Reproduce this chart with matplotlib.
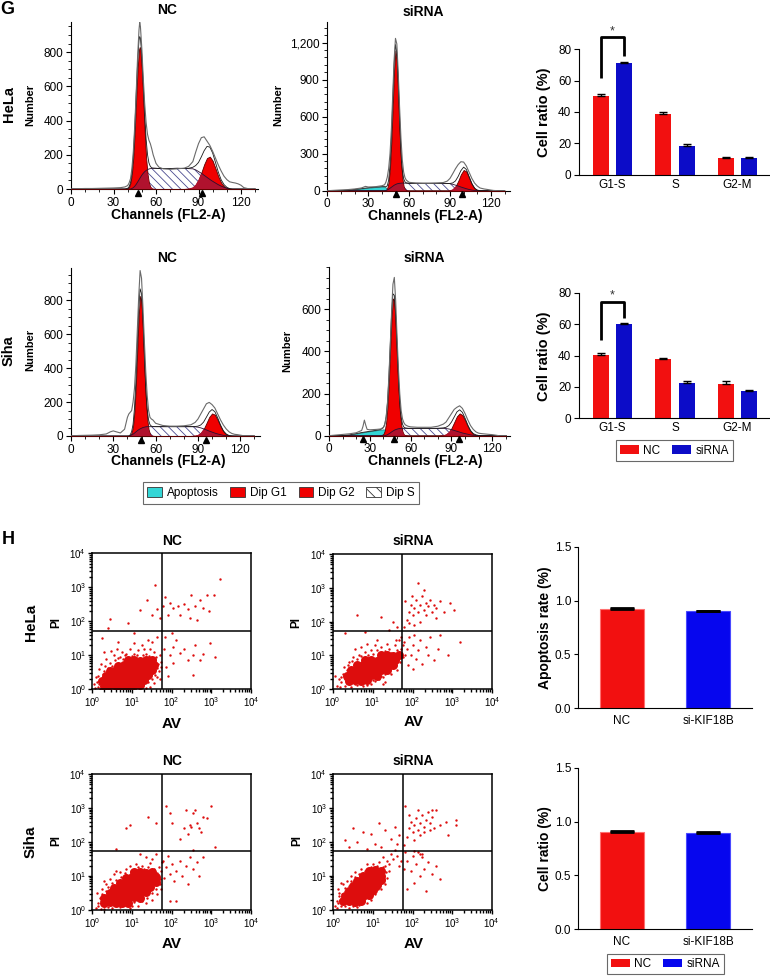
import numpy as np
import matplotlib
matplotlib.use('Agg')
import matplotlib.pyplot as plt
from matplotlib.patches import Patch
from matplotlib.ticker import MultipleLocator, FuncFormatter, LogLocator, NullFormatter
import matplotlib.transforms as mtransforms

plt.rcParams['font.family'] = ['Liberation Sans', 'DejaVu Sans']
plt.rcParams['hatch.linewidth'] = 0.6
plt.rcParams['hatch.color'] = '#4a4a90'
plt.rcParams['axes.linewidth'] = 0.8

# ---------------- DATA: cell-cycle histograms (channel, counts) ----------------
hn_ch = [0, 5, 10, 15, 20, 25, 30, 35, 38, 40, 41, 42, 43, 44, 45, 46, 47, 48, 48.5, 49, 50, 51, 52, 53, 54, 55,
         56, 57, 58, 60, 62, 65, 70, 75, 80, 83, 86, 88, 90, 92, 94, 96, 98, 100, 102, 104, 106, 108, 110, 112,
         114, 116, 118, 120, 122, 125, 130]
hn_raw = [0, 2, 3, 3, 4, 5, 6, 8, 12, 20, 35, 60, 120, 220, 370, 560, 770, 930, 975, 950, 820, 650, 500, 390,
          320, 285, 265, 235, 200, 150, 128, 118, 115, 118, 122, 132, 160, 215, 265, 300, 305, 280, 255, 220,
          180, 140, 105, 75, 55, 42, 38, 35, 30, 22, 8, 2, 0]
hn_g1 = [0, 0, 0, 0, 0, 0, 0, 0, 0, 4, 13, 36, 89, 186, 336, 525, 698, 814, 830, 814, 698, 525, 336, 186, 89,
         36, 13, 4, 1, 0, 0, 0, 0, 0, 0, 0, 0, 0, 0, 0, 0, 0, 0, 0, 0, 0, 0, 0, 0, 0, 0, 0, 0, 0, 0, 0, 0]
hn_g2 = [0, 0, 0, 0, 0, 0, 0, 0, 0, 0, 0, 0, 0, 0, 0, 0, 0, 0, 0, 0, 0, 0, 0, 0, 0, 0, 0, 0, 0, 0, 0, 0, 0, 0,
         0, 2, 9, 25, 53, 96, 144, 181, 189, 165, 120, 73, 37, 16, 6, 2, 0, 0, 0, 0, 0, 0, 0]
hn_s = [0, 0, 0, 0, 0, 0, 0, 0, 0, 0, 0, 0, 3, 8, 16, 27, 40, 54, 61, 68, 81, 92, 101, 108, 113, 117, 119, 120,
        121, 121, 120, 120, 120, 121, 120, 119, 118, 112, 102, 92, 80, 68, 56, 45, 35, 25, 17, 10, 4, 0, 0, 0,
        0, 0, 0, 0, 0]
hn_ap = [0, 0, 0, 0, 0, 0, 0, 0, 0, 0, 0, 0, 0, 0, 0, 0, 0, 0, 0, 0, 0, 0, 0, 0, 0, 0, 0, 0, 0, 0, 0, 0, 0, 0,
         0, 0, 0, 0, 0, 0, 0, 0, 0, 0, 0, 0, 0, 0, 0, 0, 0, 0, 0, 0, 0, 0, 0]
hn_peaks = [47.5, 92.5]

hs_ch = [0, 5, 10, 15, 20, 25, 28, 30, 35, 40, 42, 43, 44, 45, 46, 47, 48, 49, 50, 51, 52, 53, 54, 55, 56, 57,
         58, 60, 65, 70, 75, 80, 85, 88, 90, 92, 94, 96, 98, 100, 102, 104, 106, 108, 110, 112, 115, 118, 120,
         122, 125, 130]
hs_raw = [0, 3, 6, 9, 14, 22, 35, 30, 32, 40, 48, 70, 110, 180, 300, 500, 780, 1060, 1235, 1190, 960, 680, 430,
          250, 150, 105, 85, 68, 62, 60, 60, 62, 66, 78, 100, 138, 178, 212, 235, 232, 200, 150, 100, 62, 38,
          22, 14, 9, 5, 2, 0, 0]
hs_g1 = [0, 0, 0, 0, 0, 0, 0, 0, 0, 0, 1, 5, 22, 70, 185, 400, 690, 980, 1135, 1065, 810, 505, 255, 106, 35, 10,
         2, 0, 0, 0, 0, 0, 0, 0, 0, 0, 0, 0, 0, 0, 0, 0, 0, 0, 0, 0, 0, 0, 0, 0, 0, 0]
hs_g2 = [0, 0, 0, 0, 0, 0, 0, 0, 0, 0, 0, 0, 0, 0, 0, 0, 0, 0, 0, 0, 0, 0, 0, 0, 0, 0, 0, 0, 0, 0, 0, 0, 0, 0,
         2, 11, 34, 78, 133, 168, 156, 105, 53, 19, 5, 1, 0, 0, 0, 0, 0, 0]
hs_s = [0, 0, 0, 0, 0, 0, 0, 0, 0, 0, 0, 2, 6, 12, 20, 28, 36, 44, 50, 55, 58, 60, 61, 62, 62, 61, 61, 60, 60,
        60, 60, 60, 60, 59, 57, 52, 45, 38, 30, 23, 16, 10, 5, 2, 0, 0, 0, 0, 0, 0, 0, 0]
hs_ap = [0, 0, 1, 4, 10, 17, 21, 24, 29, 33, 32, 25, 12, 3, 0, 0, 0, 0, 0, 0, 0, 0, 0, 0, 0, 0, 0, 0, 0, 0, 0,
         0, 0, 0, 0, 0, 0, 0, 0, 0, 0, 0, 0, 0, 0, 0, 0, 0, 0, 0, 0, 0]
hs_peaks = [50.2, 98.9]

sn_ch = [0, 5, 10, 15, 20, 25, 28, 30, 32, 35, 38, 40, 41, 42, 43, 44, 45, 46, 47, 48, 49, 50, 51, 52, 53, 54,
         55, 56, 57, 58, 60, 65, 70, 75, 80, 85, 88, 90, 92, 94, 96, 98, 100, 102, 104, 106, 108, 110, 112, 114,
         116, 118, 120, 122, 125, 130]
sn_raw = [0, 3, 4, 5, 7, 12, 25, 30, 25, 18, 40, 110, 130, 140, 150, 200, 280, 420, 620, 820, 975, 930, 760,
          560, 380, 240, 150, 110, 100, 95, 75, 62, 58, 58, 60, 66, 80, 100, 130, 160, 190, 198, 185, 165, 130,
          95, 65, 42, 25, 15, 10, 8, 5, 2, 0, 0]
sn_g1 = [0, 0, 0, 0, 0, 0, 0, 0, 0, 0, 0, 0, 1, 5, 20, 58, 145, 297, 505, 709, 825, 794, 633, 418, 228, 103, 39,
         12, 3, 1, 0, 0, 0, 0, 0, 0, 0, 0, 0, 0, 0, 0, 0, 0, 0, 0, 0, 0, 0, 0, 0, 0, 0, 0, 0, 0]
sn_g2 = [0, 0, 0, 0, 0, 0, 0, 0, 0, 0, 0, 0, 0, 0, 0, 0, 0, 0, 0, 0, 0, 0, 0, 0, 0, 0, 0, 0, 0, 0, 0, 0, 0, 0,
         0, 0, 2, 6, 17, 40, 75, 112, 133, 126, 95, 57, 27, 10, 3, 1, 0, 0, 0, 0, 0, 0]
sn_s = [0, 0, 0, 0, 0, 0, 0, 0, 0, 0, 0, 0, 0, 2, 6, 11, 17, 24, 31, 37, 42, 46, 50, 52, 54, 55, 55, 55, 55, 55,
        55, 55, 55, 55, 55, 55, 54, 52, 48, 42, 36, 29, 23, 17, 12, 8, 4, 2, 0, 0, 0, 0, 0, 0, 0, 0]
sn_ap = [0, 0, 0, 0, 0, 0, 0, 0, 0, 0, 0, 0, 0, 0, 0, 0, 0, 0, 0, 0, 0, 0, 0, 0, 0, 0, 0, 0, 0, 0, 0, 0, 0, 0,
         0, 0, 0, 0, 0, 0, 0, 0, 0, 0, 0, 0, 0, 0, 0, 0, 0, 0, 0, 0, 0, 0]
sn_peaks = [49.6, 95.7]

ss_ch = [0, 5, 10, 15, 20, 24, 25, 26, 27, 28, 30, 35, 38, 40, 41, 42, 43, 44, 45, 46, 47, 48, 49, 50, 51, 52,
         53, 54, 55, 56, 58, 60, 65, 70, 75, 80, 84, 86, 88, 90, 92, 94, 96, 98, 100, 102, 104, 106, 108, 110,
         112, 115, 118, 120, 122, 125, 130]
ss_raw = [0, 3, 6, 9, 14, 25, 45, 74, 50, 30, 28, 30, 32, 40, 55, 90, 160, 280, 430, 590, 720, 752, 640, 470,
          320, 200, 120, 80, 62, 52, 45, 42, 40, 40, 40, 45, 55, 65, 85, 105, 125, 135, 142, 130, 105, 75, 48,
          30, 18, 12, 10, 8, 6, 5, 3, 0, 0]
ss_g1 = [0, 0, 0, 0, 0, 0, 0, 0, 0, 0, 0, 0, 1, 8, 25, 64, 140, 262, 416, 564, 652, 641, 538, 384, 234, 121, 54,
         20, 6, 2, 0, 0, 0, 0, 0, 0, 0, 0, 0, 0, 0, 0, 0, 0, 0, 0, 0, 0, 0, 0, 0, 0, 0, 0, 0, 0, 0]
ss_g2 = [0, 0, 0, 0, 0, 0, 0, 0, 0, 0, 0, 0, 0, 0, 0, 0, 0, 0, 0, 0, 0, 0, 0, 0, 0, 0, 0, 0, 0, 0, 0, 0, 0, 0,
         0, 0, 2, 6, 16, 36, 64, 92, 106, 98, 73, 44, 21, 8, 3, 1, 0, 0, 0, 0, 0, 0, 0]
ss_s = [0, 0, 0, 0, 0, 0, 0, 0, 0, 0, 0, 0, 0, 0, 0, 2, 5, 9, 13, 18, 22, 26, 29, 31, 33, 34, 35, 35, 35, 35, 35,
        35, 35, 35, 35, 35, 35, 34, 32, 29, 25, 21, 17, 13, 10, 7, 4, 2, 1, 0, 0, 0, 0, 0, 0, 0, 0]
ss_ap = [0, 0, 1, 4, 10, 15, 16, 17, 18, 19, 21, 26, 29, 30, 29, 24, 14, 5, 0, 0, 0, 0, 0, 0, 0, 0, 0, 0, 0, 0,
         0, 0, 0, 0, 0, 0, 0, 0, 0, 0, 0, 0, 0, 0, 0, 0, 0, 0, 0, 0, 0, 0, 0, 0, 0, 0, 0]
ss_peaks = [25.2, 47.8, 95.8]

hist_legend_labels = ['Apoptosis', 'Dip G1', 'Dip G2', 'Dip S']

# ---------------- DATA: cell-cycle bar charts ----------------
cycle_phases = ['G1-S', 'S', 'G2-M']
hela_nc = [50.2, 39.0, 10.6]
hela_nc_err = [1.2, 0.8, 0.8]
hela_si = [71.0, 18.2, 10.6]
hela_si_err = [1.2, 1.2, 0.9]
siha_nc = [40.4, 37.5, 22.0]
siha_nc_err = [0.9, 0.8, 1.5]
siha_si = [60.0, 22.4, 17.5]
siha_si_err = [0.8, 1.2, 0.5]
hela_bracket = [62.0, 87.7, 76.0]
siha_bracket = [49.8, 73.8, 63.7]
bar_legend_labels = ['NC', 'siRNA']

# ---------------- DATA: apoptosis bar charts ----------------
apop_groups = ['NC', 'si-KIF18B']
hela_apop = [0.925, 0.900]
hela_apop_err = [0.006, 0.004]
siha_ratio = [0.905, 0.898]
siha_ratio_err = [0.006, 0.004]

# ---------------- DATA: AV/PI scatter (log10 AV, log10 PI) ----------------
gate_av = 56
gate_pi = 53

hn_core = [(0.30, 0.10), (0.45, 0.12), (0.60, 0.09), (0.75, 0.11), (0.90, 0.10), (1.05, 0.13), (1.20, 0.12),
           (0.25, 0.25), (0.40, 0.27), (0.55, 0.24), (0.70, 0.26), (0.85, 0.25), (1.00, 0.28), (1.15, 0.26),
           (1.30, 0.27), (0.35, 0.40), (0.50, 0.42), (0.65, 0.39), (0.80, 0.41), (0.95, 0.43), (1.10, 0.40),
           (1.25, 0.42), (1.40, 0.41), (0.45, 0.55), (0.60, 0.57), (0.75, 0.54), (0.90, 0.56), (1.05, 0.58),
           (1.20, 0.55), (1.35, 0.57), (1.50, 0.56), (0.65, 0.70), (0.80, 0.72), (0.95, 0.69), (1.10, 0.71),
           (1.25, 0.73), (1.40, 0.70), (1.55, 0.72), (0.90, 0.85), (1.05, 0.87), (1.20, 0.84), (1.35, 0.86),
           (1.50, 0.85)]
hn_sparse = [(0.08, 0.05), (0.12, 0.22), (0.15, 0.40), (0.18, 0.60), (0.22, 0.75), (0.30, 0.55), (0.35, 0.90),
             (0.45, 0.78), (0.55, 1.00), (0.70, 0.95), (0.75, 1.10), (0.85, 1.05), (0.95, 1.20), (1.05, 1.05),
             (1.15, 1.15), (1.25, 1.30), (1.35, 1.05), (1.45, 1.20), (1.55, 1.10), (1.60, 0.95), (1.65, 0.75),
             (1.68, 0.55), (1.62, 0.35), (1.55, 0.20), (1.45, 0.08), (1.35, 0.05), (0.20, 0.02), (0.05, 0.15),
             (1.70, 1.00), (1.50, 1.40), (1.62, 1.55), (1.40, 1.45), (0.60, 0.02), (1.00, 0.02),
             (0.10, 0.35), (0.18, 0.15), (0.28, 0.45), (0.32, 0.68), (0.40, 0.62), (0.50, 0.70), (0.58, 0.85),
             (0.65, 0.92), (0.78, 0.88), (0.82, 1.00), (1.00, 0.98), (1.12, 1.02), (1.28, 1.00), (1.42, 0.98),
             (1.58, 0.88), (1.62, 0.62), (1.58, 0.42), (1.50, 0.30), (1.40, 0.22), (1.28, 0.12), (1.10, 0.05),
             (0.80, 0.03), (0.40, 0.02), (0.15, 0.08), (1.72, 0.80), (1.70, 0.30), (1.30, 1.18), (0.62, 1.20),
             (0.48, 1.12), (1.72, 0.65), (1.05, 1.35), (0.30, 1.10),
             (0.40, 1.80), (0.45, 2.06), (0.90, 1.94), (1.20, 2.33), (1.37, 2.63), (1.58, 3.07), (1.62, 2.35),
             (1.50, 2.20), (1.70, 2.10), (0.25, 1.50), (1.05, 1.65), (0.65, 1.40),
             (1.83, 2.72), (1.95, 2.55), (2.04, 2.38), (2.15, 2.45), (2.21, 2.19), (2.30, 2.50), (2.40, 2.35),
             (2.50, 2.77), (2.60, 2.45), (2.71, 2.63), (2.80, 2.40), (2.88, 2.77), (2.95, 2.30), (3.07, 2.76),
             (3.22, 3.24), (1.90, 2.20), (2.45, 2.10), (2.65, 2.05), (1.78, 2.45),
             (1.83, 1.55), (2.04, 1.25), (2.21, 1.06), (2.55, 1.01), (2.97, 1.35), (2.55, 0.42), (2.71, 0.86),
             (2.04, 0.76), (1.87, 0.67), (1.95, 1.00), (2.10, 1.45), (2.30, 1.20), (2.40, 0.85), (2.80, 1.05),
             (3.10, 0.95), (1.80, 1.20), (2.00, 1.65), (2.60, 1.30), (1.90, 0.40)]

hs_core = [(0.40, 0.25), (0.55, 0.27), (0.70, 0.24), (0.85, 0.26),
           (0.35, 0.40), (0.50, 0.42), (0.65, 0.39), (0.80, 0.41), (0.95, 0.43), (1.10, 0.40),
           (0.45, 0.55), (0.60, 0.57), (0.75, 0.54), (0.90, 0.56), (1.05, 0.58), (1.20, 0.55), (1.35, 0.57),
           (0.60, 0.70), (0.75, 0.72), (0.90, 0.69), (1.05, 0.71), (1.20, 0.73), (1.35, 0.70), (1.50, 0.72),
           (0.80, 0.85), (0.95, 0.87), (1.10, 0.84), (1.25, 0.86), (1.40, 0.85), (1.55, 0.87),
           (1.20, 1.00), (1.35, 1.02), (1.50, 0.99), (1.65, 1.01)]
hs_sparse = [(0.10, 0.10), (0.15, 0.30), (0.20, 0.20), (0.25, 0.45), (0.30, 0.10), (0.45, 0.05), (0.60, 0.12),
             (0.75, 0.08), (0.95, 0.15), (1.05, 0.25), (1.15, 0.30), (1.25, 0.35), (1.30, 0.20), (0.28, 0.65),
             (0.40, 0.80), (0.50, 0.95), (0.65, 1.00), (0.80, 1.10), (0.95, 1.15), (1.05, 1.30), (1.20, 1.25),
             (1.40, 1.20), (1.55, 1.30), (1.65, 1.45), (1.70, 1.20), (1.75, 0.95), (1.60, 0.55), (1.45, 0.45),
             (0.05, 0.40), (1.10, 1.45), (0.85, 1.35), (0.55, 1.20),
             (0.22, 0.35), (0.30, 0.30), (0.35, 0.55), (0.38, 0.70), (0.48, 0.82), (0.62, 0.88), (0.70, 0.98),
             (0.88, 1.00), (1.00, 1.05), (1.12, 1.15), (1.30, 1.12), (1.45, 1.08), (1.62, 1.15), (1.72, 1.05),
             (1.75, 1.30), (1.68, 0.80), (1.58, 0.70), (1.45, 0.62), (1.30, 0.45), (1.20, 0.38), (1.00, 0.28),
             (0.85, 0.12), (0.55, 0.15), (0.35, 0.18), (0.18, 0.05), (1.35, 1.35), (1.58, 1.45), (0.70, 1.25),
             (1.25, 0.15), (1.72, 1.55),
             (0.60, 2.20), (1.20, 2.15), (1.60, 1.85), (1.50, 2.00), (0.30, 1.65), (0.80, 1.68), (1.40, 1.75),
             (1.78, 1.85), (1.85, 2.05), (1.90, 2.30), (1.95, 2.50), (2.00, 2.20), (2.05, 2.40), (2.10, 2.65),
             (2.15, 2.30), (2.20, 2.50), (2.25, 2.75), (2.30, 2.35), (2.35, 2.55), (2.40, 2.45), (2.45, 2.65),
             (2.50, 2.30), (2.55, 2.50), (2.60, 2.40), (2.70, 2.60), (2.80, 2.30), (2.95, 2.55), (2.20, 2.00),
             (2.05, 1.90), (1.90, 1.95), (1.80, 2.60), (2.15, 3.15), (2.28, 2.95), (3.05, 2.35), (2.60, 2.10),
             (1.98, 2.75), (2.35, 2.20),
             (1.78, 1.40), (1.85, 1.20), (1.90, 1.55), (1.95, 1.00), (2.00, 1.30), (2.05, 1.60), (2.10, 0.90),
             (2.15, 1.15), (2.20, 1.45), (2.25, 0.75), (2.35, 1.25), (2.40, 1.00), (2.45, 1.55), (2.55, 0.85),
             (2.65, 1.20), (2.70, 1.60), (2.90, 1.00), (1.82, 1.00), (1.88, 0.70), (2.00, 0.60), (3.20, 1.40)]

sn_core = [(0.30, 0.20), (0.45, 0.22), (0.60, 0.19), (0.75, 0.21), (0.90, 0.20),
           (0.30, 0.35), (0.45, 0.37), (0.60, 0.34), (0.75, 0.36), (0.90, 0.35), (1.05, 0.38), (1.20, 0.36),
           (0.45, 0.50), (0.60, 0.52), (0.75, 0.49), (0.90, 0.51), (1.05, 0.53), (1.20, 0.50), (1.35, 0.52),
           (0.55, 0.65), (0.70, 0.67), (0.85, 0.64), (1.00, 0.66), (1.15, 0.68), (1.30, 0.65), (1.45, 0.67),
           (0.70, 0.80), (0.85, 0.82), (1.00, 0.79), (1.15, 0.81), (1.30, 0.83), (1.45, 0.80), (1.60, 0.82),
           (0.85, 0.95), (1.00, 0.97), (1.15, 0.94), (1.30, 0.96), (1.45, 0.95), (1.60, 0.97),
           (1.05, 1.10), (1.20, 1.12), (1.35, 1.09), (1.50, 1.11)]
sn_sparse = [(0.10, 0.05), (0.15, 0.20), (0.20, 0.35), (0.12, 0.50), (0.25, 0.60), (0.35, 0.75), (0.45, 0.90),
             (0.55, 1.05), (0.70, 1.10), (0.85, 1.20), (0.95, 1.30), (1.10, 1.35), (1.25, 1.30), (1.40, 1.25),
             (1.55, 1.20), (1.65, 1.00), (1.70, 0.75), (1.62, 0.45), (1.50, 0.30), (1.35, 0.20), (1.15, 0.10),
             (0.95, 0.05), (0.50, 0.05), (0.30, 0.02), (1.50, 1.50), (1.35, 1.55), (1.60, 1.65), (0.40, 0.45),
             (1.20, 1.65), (1.75, 1.40),
             (0.15, 0.10), (0.22, 0.25), (0.25, 0.45), (0.35, 0.55), (0.40, 0.68), (0.50, 0.78), (0.60, 0.88),
             (0.72, 0.98), (0.82, 1.08), (0.98, 1.15), (1.15, 1.25), (1.30, 1.20), (1.45, 1.10), (1.62, 1.08),
             (1.70, 0.92), (1.72, 0.60), (1.60, 0.62), (1.50, 0.48), (1.38, 0.35), (1.25, 0.25), (1.05, 0.22),
             (1.00, 0.12), (0.70, 0.08), (0.40, 0.08), (0.22, 0.02), (1.68, 1.25), (1.45, 1.38), (1.72, 1.15),
             (0.30, 0.85), (0.60, 1.15),
             (0.95, 2.50), (0.85, 2.40), (1.40, 2.75), (1.60, 2.55), (0.60, 1.80),
             (1.95, 2.85), (1.85, 3.05), (2.00, 2.55), (2.30, 2.40), (2.45, 2.50), (2.55, 2.85), (2.60, 2.95),
             (2.65, 2.55), (2.70, 2.40), (2.80, 2.75), (2.90, 2.70), (3.00, 3.05), (2.50, 2.45), (2.40, 2.25),
             (2.20, 2.10), (3.10, 1.85), (2.75, 2.30), (2.35, 2.95),
             (1.78, 1.45), (1.85, 1.25), (1.90, 1.60), (1.95, 1.05), (2.00, 1.35), (2.05, 0.85), (2.10, 1.15),
             (2.20, 1.45), (2.25, 1.00), (2.35, 1.30), (2.45, 1.55), (2.55, 1.20), (2.65, 1.40), (2.70, 1.00),
             (2.40, 0.75), (1.80, 0.95), (2.10, 0.25), (1.95, 0.25), (2.55, 1.75), (2.80, 1.55)]

ss_core = [(0.25, 0.25), (0.40, 0.27), (0.55, 0.24), (0.70, 0.26),
           (0.30, 0.40), (0.45, 0.42), (0.60, 0.39), (0.75, 0.41), (0.90, 0.43),
           (0.40, 0.55), (0.55, 0.57), (0.70, 0.54), (0.85, 0.56), (1.00, 0.58),
           (0.50, 0.70), (0.65, 0.72), (0.80, 0.69), (0.95, 0.71), (1.10, 0.73),
           (0.60, 0.85), (0.75, 0.87), (0.90, 0.84), (1.05, 0.86), (1.20, 0.88),
           (0.75, 1.00), (0.90, 1.02), (1.05, 0.99), (1.20, 1.01),
           (0.90, 1.15), (1.05, 1.17), (1.20, 1.14)]
ss_sparse = [(0.05, 0.10), (0.10, 0.25), (0.15, 0.40), (0.20, 0.10), (0.12, 0.60), (0.25, 0.75), (0.35, 0.85),
             (0.45, 1.00), (0.55, 1.10), (0.70, 1.20), (0.85, 1.35), (1.00, 1.35), (1.15, 1.40), (1.30, 1.30),
             (1.40, 1.15), (1.35, 0.95), (1.30, 0.75), (1.20, 0.60), (1.05, 0.45), (0.95, 0.30), (0.85, 0.20),
             (0.60, 0.08), (0.40, 0.05), (1.50, 1.50), (1.45, 1.65), (1.60, 1.60), (1.25, 1.55), (0.30, 0.55),
             (0.12, 0.20), (0.18, 0.30), (0.15, 0.50), (0.22, 0.45), (0.30, 0.65), (0.40, 0.70), (0.45, 0.85),
             (0.55, 0.98), (0.65, 1.05), (0.80, 1.15), (0.95, 1.25), (1.10, 1.30), (1.25, 1.25), (1.32, 1.10),
             (1.28, 0.90), (1.20, 0.78), (1.12, 0.62), (1.00, 0.48), (0.90, 0.35), (0.78, 0.25), (0.65, 0.15),
             (0.50, 0.12), (0.30, 0.12), (0.10, 0.05), (1.40, 1.35), (1.55, 1.75), (1.70, 1.45), (1.65, 1.30),
             (1.35, 1.45), (0.20, 0.80),
             (0.40, 1.85), (0.60, 2.00), (0.75, 2.30), (0.95, 2.25), (1.05, 1.95), (1.15, 2.55), (1.30, 2.35),
             (1.45, 2.10), (1.55, 2.45), (1.60, 1.95), (0.50, 2.40), (0.85, 1.80), (1.20, 1.85), (1.65, 2.20),
             (0.30, 2.05),
             (1.78, 1.90), (1.85, 2.15), (1.90, 2.40), (1.95, 2.60), (2.00, 2.30), (2.05, 2.50), (2.10, 2.70),
             (2.15, 2.35), (2.20, 2.55), (2.25, 2.80), (2.30, 2.45), (2.35, 2.65), (2.40, 2.90), (2.45, 2.55),
             (2.50, 2.75), (2.55, 2.40), (2.60, 2.95), (2.20, 2.20), (2.05, 2.05), (1.92, 2.80), (2.30, 2.30),
             (2.45, 2.35), (2.70, 2.50), (2.85, 2.60), (3.10, 2.65), (3.10, 2.50), (2.90, 2.20), (2.15, 2.95),
             (1.80, 3.05), (2.50, 2.95),
             (1.78, 1.20), (1.85, 1.45), (1.95, 1.15), (2.00, 1.60), (2.05, 0.80), (2.10, 1.35), (2.15, 1.70),
             (2.20, 1.00), (2.25, 1.55), (2.30, 1.20), (2.35, 0.55), (2.40, 1.40), (2.50, 1.05), (2.60, 1.30),
             (2.20, 1.65), (2.25, 1.65), (1.85, 0.60), (2.70, 0.90), (1.80, 1.70), (2.05, 1.72)]

# ---------------- STYLE ----------------
RED = '#f00000'
OVERLAP = '#b0122e'
CYAN = '#33d6d6'
BAR_RED = '#f21010'
BAR_BLUE = '#0c0cc8'
H_BLUE = '#0606ee'
DOT_RED = '#dd0d0d'

W, H = 770, 977
fig = plt.figure(figsize=(W / 100, H / 100), dpi=100)


def ax_px(x0, x1, y_top, y_bot):
    return fig.add_axes([x0 / W, 1 - y_bot / H, (x1 - x0) / W, (y_bot - y_top) / H])


def ftext(x, y, s, **kw):
    fig.text(x / W, 1 - y / H, s, ha='center', va='center', **kw)


def draw_hist(ax, ch, raw, g1, g2, sp, ap, peaks, xmax, ymax, yticks, yminor, comma=False):
    ch = np.array(ch, float)
    raw = np.array(raw, float)
    g1 = np.array(g1, float)
    g2 = np.array(g2, float)
    sp = np.array(sp, float)
    ap = np.array(ap, float)
    fit = g1 + g2 + sp + ap
    ax.fill_between(ch, 0, sp, facecolor='white', edgecolor='#4a4a90', hatch='\\\\\\\\', linewidth=0, zorder=1)
    if ap.max() > 0:
        ax.fill_between(ch, 0, ap, facecolor=CYAN, edgecolor='#1b6f6f', linewidth=0.5, zorder=2)
    for g in (g1, g2):
        ax.fill_between(ch, 0, g, facecolor=RED, edgecolor='#5a0000', linewidth=0.6, zorder=3)
        ax.fill_between(ch, 0, np.minimum(g, sp), facecolor=OVERLAP, linewidth=0, zorder=4)
    ax.plot(ch, sp, color='#2b1030', lw=0.6, zorder=5)
    ax.plot(ch, fit, color='#1a1a1a', lw=0.6, zorder=6)
    ax.plot(ch, raw, color='#6a6a6a', lw=0.8, zorder=7)
    trans = mtransforms.blended_transform_factory(ax.transData, ax.transAxes)
    ax.plot(peaks, [-0.022] * len(peaks), marker='^', ls='none', color='black', ms=4.2,
            transform=trans, clip_on=False, zorder=8)
    ax.set_xlim(0, xmax)
    ax.set_ylim(0, ymax)
    for side in ('top', 'right'):
        ax.spines[side].set_visible(False)
    ax.set_xticks([0, 30, 60, 90, 120])
    ax.xaxis.set_minor_locator(MultipleLocator(10))
    ax.set_yticks(yticks)
    ax.yaxis.set_minor_locator(MultipleLocator(yminor))
    if comma:
        ax.yaxis.set_major_formatter(FuncFormatter(lambda v, p: f'{int(v):,}'))
    ax.tick_params(which='major', direction='out', length=3.5, width=0.8, labelsize=8.5, pad=2)
    ax.tick_params(which='minor', direction='out', length=2, width=0.6)


def draw_cycle_bars(ax, nc, nc_err, si, si_err, bracket, star_y):
    x = np.arange(len(cycle_phases))
    off, bw = 0.186, 0.256
    ax.bar(x - off, nc, width=bw, color=BAR_RED, zorder=2)
    ax.bar(x + off, si, width=bw, color=BAR_BLUE, zorder=2)
    ax.errorbar(x - off, nc, yerr=[np.zeros(3), nc_err], fmt='none', ecolor='black', elinewidth=1,
                capsize=3, capthick=1, zorder=3)
    ax.errorbar(x + off, si, yerr=[np.zeros(3), si_err], fmt='none', ecolor='black', elinewidth=1,
                capsize=3, capthick=1, zorder=3)
    ax.plot([-off, -off, off, off], [bracket[0], bracket[1], bracket[1], bracket[2]], color='black', lw=2,
            clip_on=False, solid_capstyle='butt', zorder=4)
    ax.text(0, star_y, '*', ha='center', va='center', fontsize=9, color='#333333', clip_on=False)
    ax.set_xlim(-0.533, 2.52)
    ax.set_ylim(0, 80)
    ax.set_yticks([0, 20, 40, 60, 80])
    ax.set_xticks(x)
    ax.set_xticklabels(cycle_phases)
    for side in ('top', 'right'):
        ax.spines[side].set_visible(False)
    ax.tick_params(axis='y', direction='out', length=3.5, width=0.8, labelsize=8.5, pad=2)
    ax.tick_params(axis='x', length=0, labelsize=8.5, pad=3)


def draw_apop_bars(ax, vals, errs):
    x = np.arange(len(apop_groups))
    ax.bar(x, vals, width=0.51, color=[BAR_RED, H_BLUE], edgecolor=['#ff7070', '#4a4aff'], linewidth=0.8,
           zorder=2)
    ax.errorbar(x, vals, yerr=[np.zeros(2), errs], fmt='none', ecolor='black', elinewidth=1.6, capsize=8.5,
                capthick=2, zorder=3)
    ax.set_xlim(-0.506, 1.503)
    ax.set_ylim(0, 1.5)
    ax.set_yticks([0.0, 0.5, 1.0, 1.5])
    ax.yaxis.set_major_formatter(FuncFormatter(lambda v, p: f'{v:.1f}'))
    ax.set_xticks(x)
    ax.set_xticklabels(apop_groups)
    for side in ('top', 'right'):
        ax.spines[side].set_visible(False)
    ax.tick_params(axis='y', direction='out', length=3, width=0.8, labelsize=8.5, pad=2)
    ax.tick_params(axis='x', length=0, labelsize=8.5, pad=5)


def draw_scatter(ax, core, sparse):
    c = np.array(core).T
    s = np.array(sparse).T
    ax.set_xscale('log')
    ax.set_yscale('log')
    ax.scatter(10 ** c[0], 10 ** c[1], s=42, color=DOT_RED, linewidths=0, zorder=2)
    ax.scatter(10 ** s[0], 10 ** s[1], s=3, color=DOT_RED, linewidths=0, zorder=2)
    ax.set_xlim(1, 1e4)
    ax.set_ylim(1, 1e4)
    ax.axvline(gate_av, color='black', lw=1.1, zorder=3)
    ax.axhline(gate_pi, color='black', lw=1.1, zorder=3)
    for sp in ax.spines.values():
        sp.set_linewidth(1.1)
    for axis in (ax.xaxis, ax.yaxis):
        axis.set_major_locator(LogLocator(10, numticks=10))
        axis.set_minor_locator(LogLocator(10, subs=np.arange(2, 10), numticks=10))
        axis.set_minor_formatter(NullFormatter())
    ax.tick_params(which='major', direction='out', length=3, width=1, labelsize=7, pad=1.5,
                   top=False, right=False)
    ax.tick_params(which='minor', direction='out', length=2.5, width=1, top=False, right=False)


# ---------------- PANEL G: histograms ----------------
a = ax_px(71, 258, 22, 189)
draw_hist(a, hn_ch, hn_raw, hn_g1, hn_g2, hn_s, hn_ap, hn_peaks, 132, 976, [0, 200, 400, 600, 800], 50)
a = ax_px(327.3, 510, 21.7, 190.7)
draw_hist(a, hs_ch, hs_raw, hs_g1, hs_g2, hs_s, hs_ap, hs_peaks, 134, 1370, [0, 300, 600, 900, 1200], 60,
          comma=True)
a = ax_px(71, 260, 268, 436)
draw_hist(a, sn_ch, sn_raw, sn_g1, sn_g2, sn_s, sn_ap, sn_peaks, 134, 990, [0, 200, 400, 600, 800], 50)
a = ax_px(329, 510, 267.3, 435.7)
draw_hist(a, ss_ch, ss_raw, ss_g1, ss_g2, ss_s, ss_ap, ss_peaks, 133, 800, [0, 200, 400, 600], 50)

# ---------------- PANEL G: bars ----------------
a = ax_px(579, 770, 49.3, 174.7)
draw_cycle_bars(a, hela_nc, hela_nc_err, hela_si, hela_si_err, hela_bracket, 91.5)
a = ax_px(579, 770, 292.7, 418.3)
draw_cycle_bars(a, siha_nc, siha_nc_err, siha_si, siha_si_err, siha_bracket, 78.0)

# ---------------- PANEL H: scatter ----------------
a = ax_px(92.3, 251, 553.3, 689.3)
draw_scatter(a, hn_core, hn_sparse)
a = ax_px(332.7, 492.3, 554.3, 689)
draw_scatter(a, hs_core, hs_sparse)
a = ax_px(92.3, 251, 774.3, 909.7)
draw_scatter(a, sn_core, sn_sparse)
a = ax_px(333.3, 491.7, 774.3, 909.7)
draw_scatter(a, ss_core, ss_sparse)

# ---------------- PANEL H: bars ----------------
a = ax_px(578.3, 751.7, 546.7, 708.3)
draw_apop_bars(a, hela_apop, hela_apop_err)
a = ax_px(578.3, 751.7, 767.7, 929.3)
draw_apop_bars(a, siha_ratio, siha_ratio_err)

# ---------------- TEXT ----------------
B = dict(fontweight='bold')
ftext(7, 10, 'G', fontsize=13, **B)
ftext(8, 539, 'H', fontsize=13, **B)
ftext(167.5, 10, 'NC', fontsize=10, **B)
ftext(423, 12, 'siRNA', fontsize=10, **B)
ftext(167.5, 258, 'NC', fontsize=10, **B)
ftext(424, 258, 'siRNA', fontsize=10, **B)
ftext(168, 215, 'Channels (FL2-A)', fontsize=10, **B)
ftext(425.5, 216, 'Channels (FL2-A)', fontsize=10, **B)
ftext(168, 461, 'Channels (FL2-A)', fontsize=10, **B)
ftext(425.5, 461, 'Channels (FL2-A)', fontsize=10, **B)
ftext(8.5, 104, 'HeLa', fontsize=10.5, rotation=90, **B)
ftext(9, 351, 'Siha', fontsize=10.5, rotation=90, **B)
ftext(30.5, 104.5, 'Number', fontsize=8, rotation=90, **B)
ftext(278, 105, 'Number', fontsize=8, rotation=90, **B)
ftext(30.5, 350, 'Number', fontsize=8, rotation=90, **B)
ftext(287, 351, 'Number', fontsize=8, rotation=90, **B)
ftext(544, 112.5, 'Cell ratio (%)', fontsize=10.5, rotation=90, **B)
ftext(544, 356, 'Cell ratio (%)', fontsize=10.5, rotation=90, **B)
ftext(545, 627.5, 'Apoptosis rate (%)', fontsize=10, rotation=90, **B)
ftext(545, 849, 'Cell ratio (%)', fontsize=10, rotation=90, **B)

ftext(172, 541, 'NC', fontsize=10, **B)
ftext(413, 541, 'siRNA', fontsize=10, **B)
ftext(172, 761, 'NC', fontsize=10, **B)
ftext(413, 761, 'siRNA', fontsize=10, **B)
for (xx, yy) in [(172, 724), (414, 722), (172, 944), (414, 944)]:
    ftext(xx, yy, 'AV', fontsize=11, **B)
for (xx, yy) in [(56, 622), (296, 622), (56, 841), (297, 841)]:
    ftext(xx, yy, 'PI', fontsize=8.5, rotation=90, **B)
ftext(31, 622, 'HeLa', fontsize=11, rotation=90, **B)
ftext(31, 842, 'Siha', fontsize=11, rotation=90, **B)

# ---------------- LEGENDS ----------------
hist_handles = [Patch(facecolor=CYAN, edgecolor='#333333', lw=0.6),
                Patch(facecolor=RED, edgecolor='#333333', lw=0.6),
                Patch(facecolor=RED, edgecolor='#333333', lw=0.6),
                Patch(facecolor='white', edgecolor='#333333', hatch='\\\\\\', lw=0.6)]
leg = fig.legend(hist_handles, hist_legend_labels, loc='center', bbox_to_anchor=(281 / W, 1 - 493 / H),
                 ncol=4, fontsize=8.5, frameon=True, fancybox=False, edgecolor='#444444', handlelength=1.2,
                 handleheight=1.0, handletextpad=0.45, columnspacing=1.0, borderpad=0.4)
leg.get_frame().set_linewidth(0.8)

for cy, blue in [(450.5, BAR_BLUE), (964, H_BLUE)]:
    hh = [Patch(facecolor=BAR_RED, edgecolor='none'), Patch(facecolor=blue, edgecolor='none')]
    cx = 674.5 if cy < 500 else 665.5
    lg = fig.legend(hh, bar_legend_labels, loc='center', bbox_to_anchor=(cx / W, 1 - cy / H), ncol=2,
                    fontsize=8.5, frameon=True, fancybox=False, edgecolor='#444444', handlelength=1.6,
                    handleheight=0.7, handletextpad=0.4, columnspacing=1.0, borderpad=0.35)
    lg.get_frame().set_linewidth(0.8)

fig.savefig('out.png', dpi=100)
